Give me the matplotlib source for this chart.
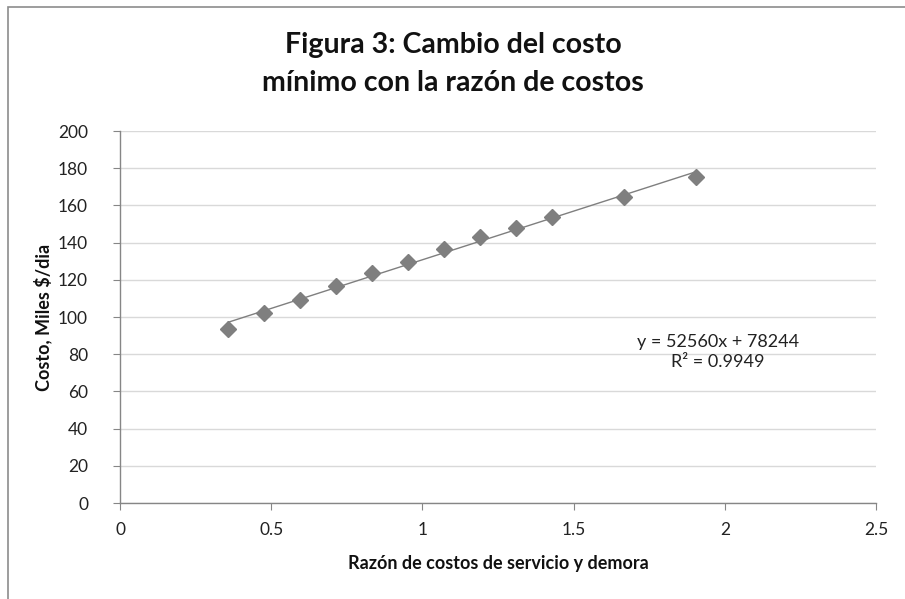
import matplotlib
matplotlib.use("Agg")
import matplotlib.pyplot as plt
import numpy as np
from matplotlib.patches import Rectangle

# data
razon = [0.357, 0.476, 0.595, 0.714, 0.833, 0.952, 1.071, 1.190, 1.310, 1.429, 1.667, 1.905]
costo = [93.4, 102.3, 109.1, 116.7, 123.8, 129.7, 136.4, 142.8, 148.0, 153.6, 164.4, 175.1]
x_ticks = [0, 0.5, 1, 1.5, 2, 2.5]
x_ticklabels = ["0", "0.5", "1", "1.5", "2", "2.5"]
y_ticks = [0, 20, 40, 60, 80, 100, 120, 140, 160, 180, 200]
eq_text = "y = 52560x + 78244\nR² = 0.9949"

plt.rcParams['font.family'] = ['Lato', 'DejaVu Sans']

gray = '#7f7f7f'
axis_gray = '#868686'

fig = plt.figure(figsize=(9.05, 5.99), dpi=100)
fig.patch.set_facecolor('white')

# outer chart frame (only left and top visible in the crop)
fig.patches.append(Rectangle((8/905, -0.1), 1.2, 1 - 7/599 + 0.1, transform=fig.transFigure,
                             fill=False, edgecolor='#8c8c8c', linewidth=1.2))

ax = fig.add_axes([120/905, 1 - 503/599, (876 - 120)/905, (503 - 131)/599])

# trendline from a linear fit of the points
coef = np.polyfit(razon, costo, 1)
xs = np.array([razon[0], razon[-1]])
ax.plot(xs, np.polyval(coef, xs), color=gray, linewidth=1.0, zorder=2)

ax.plot(razon, costo, linestyle='none', marker='D', markersize=8,
        markerfacecolor=gray, markeredgecolor=gray, zorder=3)

ax.set_xlim(0, 2.5)
ax.set_ylim(0, 200)
ax.set_xticks(x_ticks)
ax.set_xticklabels(x_ticklabels)
ax.set_yticks(y_ticks)

ax.grid(axis='y', color='#d9d9d9', linewidth=1.0)
ax.set_axisbelow(True)
for s in ['top', 'right']:
    ax.spines[s].set_visible(False)
for s in ['left', 'bottom']:
    ax.spines[s].set_color(axis_gray)
    ax.spines[s].set_linewidth(1.0)

ax.tick_params(axis='both', colors=axis_gray, labelcolor='#222222', labelsize=12.5,
               length=5, direction='out')
ax.tick_params(axis='x', pad=9)
ax.tick_params(axis='y', pad=18)

ax.set_xlabel("Razón de costos de servicio y demora", fontsize=13, fontweight='bold',
              color='#111111', labelpad=12)
ax.set_ylabel("Costo, Miles $/dia", fontsize=13, fontweight='bold',
              color='#111111', labelpad=4)

ax.text((718 - 120)/756, (503 - 352)/372, eq_text, transform=ax.transAxes,
        ha='center', va='center', fontsize=13, color='#222222', linespacing=1.3)

fig.text(453/905, 1 - 64/599, "Figura 3: Cambio del costo\nmínimo con la razón de costos",
         ha='center', va='center', fontsize=20.5, fontweight='bold', color='#111111',
         linespacing=1.6)

fig.savefig("out.png", dpi=100)
